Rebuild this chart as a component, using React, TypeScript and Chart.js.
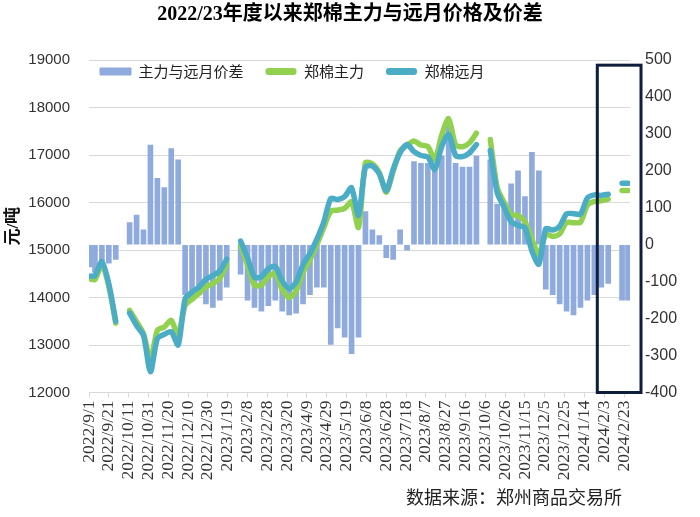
import React, { useEffect, useRef } from 'react';
import { Chart, registerables } from 'chart.js';

Chart.register(...registerables);

const TITLE = '2022/23年度以来郑棉主力与远月价格及价差';
const SOURCE = '数据来源：郑州商品交易所';
const START_DATE = '2022/9/1';

const xTickLabels = [
  '2022/9/1', '2022/9/21', '2022/10/11', '2022/10/31', '2022/11/20', '2022/12/10', '2022/12/30',
  '2023/1/19', '2023/2/8', '2023/2/28', '2023/3/20', '2023/4/9', '2023/4/29', '2023/5/19',
  '2023/6/8', '2023/6/28', '2023/7/18', '2023/8/7', '2023/8/27', '2023/9/16', '2023/10/6',
  '2023/10/26', '2023/11/15', '2023/12/5', '2023/12/25', '2024/1/14', '2024/2/3', '2024/2/23',
];

const weekDates = [
  '2022/9/2', '2022/9/7', '2022/9/14', '2022/9/21', '2022/9/28', '2022/10/5', '2022/10/12', '2022/10/19', '2022/10/26', '2022/11/2',
  '2022/11/9', '2022/11/16', '2022/11/23', '2022/11/30', '2022/12/7', '2022/12/14', '2022/12/21', '2022/12/28', '2023/1/4', '2023/1/11',
  '2023/1/18', '2023/1/25', '2023/2/1', '2023/2/8', '2023/2/15', '2023/2/22', '2023/3/1', '2023/3/8', '2023/3/15', '2023/3/22',
  '2023/3/29', '2023/4/5', '2023/4/12', '2023/4/19', '2023/4/26', '2023/5/3', '2023/5/10', '2023/5/17', '2023/5/24', '2023/5/31',
  '2023/6/7', '2023/6/14', '2023/6/21', '2023/6/28', '2023/7/5', '2023/7/12', '2023/7/19', '2023/7/26', '2023/8/2', '2023/8/9',
  '2023/8/16', '2023/8/23', '2023/8/30', '2023/9/6', '2023/9/13', '2023/9/20', '2023/9/27', '2023/10/4', '2023/10/11', '2023/10/18',
  '2023/10/25', '2023/11/1', '2023/11/8', '2023/11/15', '2023/11/22', '2023/11/29', '2023/12/6', '2023/12/13', '2023/12/20', '2023/12/27',
  '2024/1/3', '2024/1/10', '2024/1/17', '2024/1/24', '2024/1/31', '2024/2/7', '2024/2/14', '2024/2/21', '2024/2/27',
];

// 郑棉主力 (元/吨)
const mainPrice = [
  14390, 14380, 14685, 14235, 13460, null, 13730, 13490, 13240, 12685,
  13310, 13380, 13520, 13200, 13830, 13965, 14085, 14220, 14295, 14405,
  14695, null, 15110, 14685, 14255, 14260, 14440, 14505, 14170, 13995,
  14140, 14530, 14795, 15115, 15475, 15815, 15840, 15875, 16015, 15475,
  16835, 16810, 16625, 16215, 16660, 17090, 17205, 17295, 17210, 17180,
  16905, 17420, 17765, 17210, 17175, 17255, 17460, null, 17325, 16315,
  16000, 15750, 15720, 15595, 15225, 14900, 15330, 15285, 15340, 15580,
  15575, 15585, 15945, 16025, 16035, 16070, null, 16255, 16255,
];

// 郑棉远月 (元/吨)
const farPrice = [
  14450, 14460, 14755, 14285, 13500, null, 13670, 13410, 13200, 12435,
  13135, 13225, 13280, 13000, 13970, 14115, 14220, 14380, 14465, 14555,
  14810, null, 15190, 14835, 14425, 14440, 14605, 14655, 14350, 14185,
  14325, 14690, 14930, 15230, 15590, 16085, 16065, 16125, 16310, 15725,
  16745, 16770, 16600, 16250, 16700, 17050, 17220, 17070, 16990, 16960,
  16695, 17180, 17435, 16990, 16965, 17045, 17220, null, 17095, 16205,
  15900, 15595, 15520, 15465, 14980, 14700, 15450, 15420, 15500, 15760,
  15765, 15755, 16095, 16160, 16150, 16175, null, 16405, 16405,
];

// 主力与远月价差 (元/吨)
const spread = [
  -60, -75, -70, -50, -40, null, 60, 80, 40, 270,
  180, 155, 260, 230, -135, -150, -135, -160, -170, -150,
  -115, null, -80, -150, -170, -180, -165, -150, -180, -190,
  -185, -160, -135, -115, -115, -270, -225, -250, -295, -250,
  90, 40, 25, -35, -40, 40, -15, 225, 220, 220,
  210, 240, 330, 220, 210, 210, 240, null, 230, 110,
  100, 165, 200, 130, 250, 200, -120, -135, -160, -180,
  -190, -170, -150, -135, -115, -105, null, -150, -150,
];

const HIGHLIGHT_FROM = '2024/1/27';

function toUTC(s: string) {
  const [y, m, d] = s.split('/').map(Number);
  return Date.UTC(y, m - 1, d);
}
function dayOf(s: string) {
  return (toUTC(s) - toUTC(START_DATE)) / 86400000;
}

const xTickDays = xTickLabels.map(dayOf);
const weekDays = weekDates.map(dayOf);

const SERIF = '"Liberation Serif", "Noto Sans CJK SC", serif';
const SANS = '"Liberation Sans", "Noto Sans CJK SC", sans-serif';
const CJK = '"Noto Sans CJK SC", sans-serif';

export default function App() {
  const ref = useRef<HTMLCanvasElement | null>(null);

  useEffect(() => {
    if (!ref.current) return;

    const legendInPlot = {
      id: 'legendInPlot',
      afterInit(chart: any) {
        if (chart.legend) chart.legend.isHorizontal = () => true;
      },
      beforeUpdate(chart: any) {
        if (chart.legend) chart.legend.isHorizontal = () => true;
      },
      afterLayout(chart: any) {
        const lg = chart.legend;
        if (!lg) return;
        lg.left = chart.chartArea.left - 11;
        lg.top = chart.chartArea.top - 18;
      },
    };

    const extras = {
      id: 'extras',
      afterDraw(chart: any) {
        const { ctx, chartArea, scales } = chart;
        // highlight box
        const x0 = scales.x.getPixelForValue(dayOf(HIGHLIGHT_FROM));
        const x1 = chartArea.right + 11;
        const y0 = scales.y1.getPixelForValue(486);
        const y1 = chartArea.bottom;
        ctx.save();
        ctx.strokeStyle = '#0F1D3D';
        ctx.lineWidth = 3;
        ctx.strokeRect(x0, y0, x1 - x0, y1 - y0);
        // source text
        ctx.fillStyle = '#222';
        ctx.font = `18px ${SERIF}`;
        ctx.textAlign = 'right';
        ctx.textBaseline = 'middle';
        ctx.fillText(SOURCE, chartArea.right - 8, 499);
        ctx.restore();
      },
    };

    const chart = new Chart(ref.current, {
      type: 'line',
      data: {
        datasets: [
          {
            type: 'bar',
            label: '主力与远月价差',
            data: weekDays.map((x, i) => ({ x, y: spread[i] })) as any,
            backgroundColor: '#8FAADC',
            borderWidth: 0,
            barThickness: 5,
            yAxisID: 'y1',
            order: 3,
          } as any,
          {
            type: 'line',
            label: '郑棉主力',
            data: weekDays.map((x, i) => ({ x, y: mainPrice[i] })) as any,
            borderColor: '#92D050',
            backgroundColor: '#92D050',
            borderWidth: 5.5,
            pointRadius: 0,
            tension: 0.25,
            spanGaps: false,
            borderCapStyle: 'round',
            borderJoinStyle: 'round',
            yAxisID: 'y',
            order: 2,
          } as any,
          {
            type: 'line',
            label: '郑棉远月',
            data: weekDays.map((x, i) => ({ x, y: farPrice[i] })) as any,
            borderColor: '#4BACC6',
            backgroundColor: '#4BACC6',
            borderWidth: 5.5,
            pointRadius: 0,
            tension: 0.25,
            spanGaps: false,
            borderCapStyle: 'round',
            borderJoinStyle: 'round',
            yAxisID: 'y',
            order: 1,
          } as any,
        ],
      },
      options: {
        animation: false,
        responsive: false,
        maintainAspectRatio: false,
        layout: { padding: 0 },
        plugins: {
          tooltip: { enabled: false },
          title: {
            display: true,
            text: TITLE,
            color: '#000',
            font: { family: SERIF, size: 20, weight: 'bold', lineHeight: 1.2 },
            padding: { top: 3, bottom: 33 },
          },
          legend: {
            position: 'chartArea' as any,
            align: 'start',
            labels: {
              boxWidth: 31,
              boxHeight: 7,
              padding: 22,
              color: '#222',
              font: { family: CJK, size: 15 },
              sort: (a: any, b: any) => a.datasetIndex - b.datasetIndex,
              generateLabels: (chart: any) => {
                const items = Chart.defaults.plugins.legend.labels.generateLabels(chart);
                return items.map((it: any) => {
                  const ds = chart.data.datasets[it.datasetIndex];
                  const isBar = ds.type === 'bar';
                  return {
                    ...it,
                    fillStyle: isBar ? ds.backgroundColor : ds.borderColor,
                    strokeStyle: isBar ? ds.backgroundColor : ds.borderColor,
                    lineWidth: isBar ? 1 : 0,
                    borderRadius: isBar ? 0 : 3,
                  };
                });
              },
            },
          },
        },
        scales: {
          x: {
            type: 'linear',
            min: 0,
            max: 546,
            offset: false,
            afterBuildTicks: (s: any) => {
              s.ticks = xTickDays.map((v) => ({ value: v }));
            },
            afterFit: (s: any) => {
              s.height = 124.5;
            },
            ticks: {
              autoSkip: false,
              minRotation: 90,
              maxRotation: 90,
              padding: 3,
              color: '#333',
              font: { family: SERIF, size: 17.5 },
              callback: (v: any) => {
                const i = xTickDays.indexOf(Number(v));
                return i >= 0 ? xTickLabels[i] : '';
              },
            },
            grid: { drawOnChartArea: false, drawTicks: true, tickLength: 5, color: '#D9D9D9', offset: false },
            border: { display: true, color: '#D9D9D9' },
          },
          y: {
            type: 'linear',
            position: 'left',
            min: 12000,
            max: 19000,
            afterFit: (s: any) => {
              s.width = 89;
            },
            ticks: {
              stepSize: 1000,
              padding: 19,
              color: '#333',
              font: { family: SANS, size: 15 },
              callback: (v: any) => String(v),
            },
            grid: { color: '#D9D9D9', drawTicks: false },
            border: { display: false },
            title: {
              display: true,
              text: '元/吨',
              color: '#111',
              font: { family: SERIF, size: 17, weight: 'bold', lineHeight: 1.2 },
              padding: { top: 3, bottom: 0 },
            },
          },
          y1: {
            type: 'linear',
            position: 'right',
            min: -400,
            max: 500,
            afterFit: (s: any) => {
              s.width = 70;
            },
            ticks: {
              stepSize: 100,
              padding: 15,
              color: '#333',
              font: { family: SANS, size: 16 },
              callback: (v: any) => String(v),
            },
            grid: { drawOnChartArea: false, drawTicks: false },
            border: { display: false },
          },
        },
      } as any,
      plugins: [legendInPlot, extras],
    });

    return () => chart.destroy();
  }, []);

  return (
    <div style={{ position: 'fixed', left: 0, top: 0, width: 700, height: 517, background: '#fff' }}>
      <canvas ref={ref} width={700} height={517} style={{ display: 'block' }} />
    </div>
  );
}
